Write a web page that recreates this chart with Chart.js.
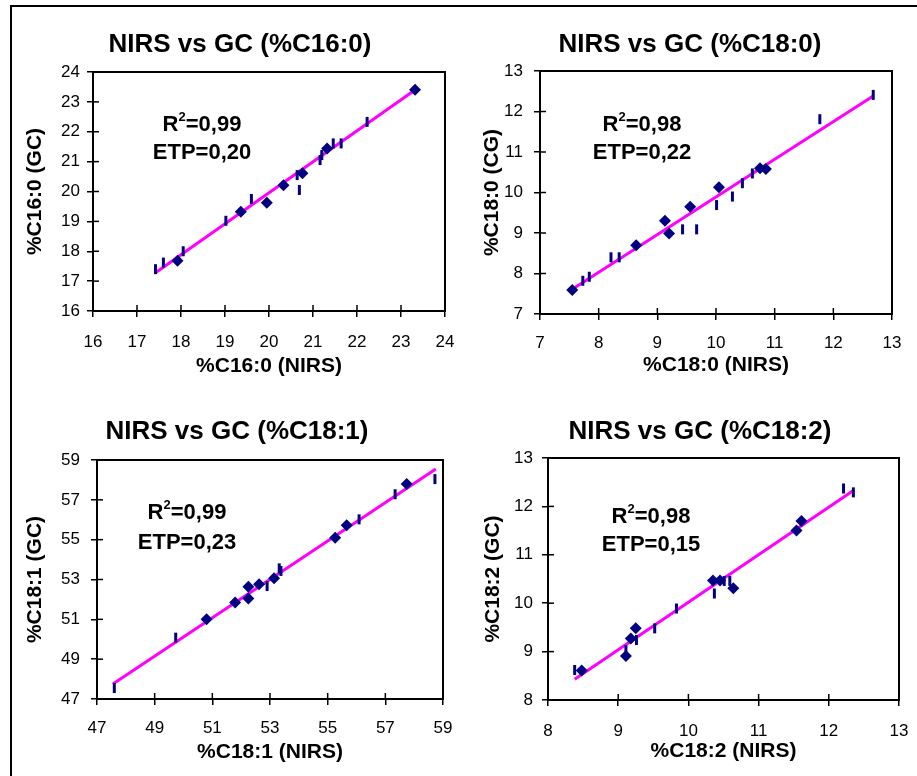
<!DOCTYPE html>
<html>
<head>
<meta charset="utf-8">
<script src="https://cdn.jsdelivr.net/npm/chart.js@4.4.0/dist/chart.umd.min.js"></script>
<style>
  html, body { margin: 0; padding: 0; background: #fff; overflow: hidden; }
  #wrap { position: relative; width: 917px; height: 776px; overflow: hidden; }
  #frame { position: absolute; left: 10px; top: 5px; width: 930px; height: 800px; border: 2px solid #000; box-sizing: border-box; }
  canvas { position: absolute; left: 0; top: 0; }
</style>
</head>
<body>
<div id="wrap">
  <div id="frame"></div>
  <canvas id="c16" width="917" height="776"></canvas>
  <canvas id="c180" width="917" height="776"></canvas>
  <canvas id="c181" width="917" height="776"></canvas>
  <canvas id="c182" width="917" height="776"></canvas>
</div>
<script>
// --- data (calibration = diamonds, validation = bars) ---
var c16CalX = [17.92, 19.36, 19.95, 20.33, 20.76, 21.32, 23.32];
var c16CalY = [17.68, 19.32, 19.62, 20.21, 20.61, 21.44, 23.41];
var c16ValX = [17.42, 17.60, 18.05, 19.02, 19.60, 20.64, 20.69, 21.16, 21.20, 21.46, 21.64, 22.23];
var c16ValY = [17.40, 17.62, 18.00, 19.02, 19.75, 20.55, 20.05, 21.05, 21.22, 21.61, 21.61, 22.33];
var c16LineX = [17.42, 23.30];
var c16LineY = [17.28, 23.38];

var c180CalX = [7.55, 8.64, 9.13, 9.20, 9.56, 10.05, 10.75, 10.85];
var c180CalY = [7.59, 8.70, 9.30, 8.99, 9.65, 10.13, 10.60, 10.58];
var c180ValX = [7.73, 7.84, 8.21, 8.35, 9.43, 9.67, 10.01, 10.28, 10.45, 10.62, 11.77, 12.68];
var c180ValY = [7.82, 7.92, 8.40, 8.40, 9.09, 9.09, 9.69, 9.90, 10.23, 10.47, 11.81, 12.41];
var c180LineX = [7.57, 12.68];
var c180LineY = [7.63, 12.38];

var c181CalX = [50.80, 51.79, 52.25, 52.25, 52.62, 53.14, 55.26, 55.66, 57.74];
var c181CalY = [51.00, 51.85, 52.05, 52.64, 52.76, 53.06, 55.10, 55.73, 57.79];
var c181ValX = [47.60, 49.73, 52.90, 53.32, 53.38, 56.09, 57.34, 58.72];
var c181ValY = [47.55, 50.08, 52.67, 53.56, 53.43, 56.02, 57.28, 58.04];
var c181LineX = [47.55, 58.75];
var c181LineY = [47.75, 58.55];

var c182CalX = [8.48, 9.11, 9.18, 9.25, 10.35, 10.45, 10.64, 11.54, 11.61];
var c182CalY = [8.61, 8.91, 9.27, 9.48, 10.47, 10.47, 10.31, 11.50, 11.70];
var c182ValX = [8.38, 9.11, 9.26, 9.52, 9.83, 10.37, 10.51, 10.59, 12.21, 12.35];
var c182ValY = [8.62, 9.03, 9.24, 9.48, 9.89, 10.20, 10.46, 10.46, 12.37, 12.29];
var c182LineX = [8.38, 12.34];
var c182LineY = [8.43, 12.32];

var FONT = "'Liberation Sans', Arial, sans-serif";
var NAVY = "#000080";
var MAGENTA = "#FF00FF";

function pts( xs, ys ) {
	var out = [];
	for ( var i = 0; i < xs.length; i++ ) {
		out.push( { x: xs[i], y: ys[i] } );
	}
	return out;
}

// draws the panel title, the R2 / ETP note, the plot frame and the inner half of the ticks
var panelDecor = {
	id: "panelDecor",
	afterDraw: function( chart, args, o ) {
		var ctx = chart.ctx;
		var a = chart.chartArea;
		ctx.save();

		// frame
		ctx.strokeStyle = "#000";
		ctx.lineWidth = 2;
		ctx.strokeRect( a.left, a.top, a.right - a.left, a.bottom - a.top );

		// inner ticks
		ctx.lineWidth = 1.5;
		var xs = chart.scales.x, ys = chart.scales.y;
		xs.ticks.forEach( function( t ) {
			var p = xs.getPixelForValue( t.value );
			ctx.beginPath(); ctx.moveTo( p, a.bottom ); ctx.lineTo( p, a.bottom - 6 ); ctx.stroke();
		} );
		ys.ticks.forEach( function( t ) {
			var p = ys.getPixelForValue( t.value );
			ctx.beginPath(); ctx.moveTo( a.left, p ); ctx.lineTo( a.left + 6, p ); ctx.stroke();
		} );

		ctx.fillStyle = "#000";
		ctx.textBaseline = "middle";

		// title
		ctx.textAlign = "center";
		ctx.font = "bold 26px " + FONT;
		ctx.fillText( o.title, o.titleX, o.titleY );

		// R2 line with superscript
		ctx.textAlign = "left";
		ctx.font = "bold 22px " + FONT;
		var w1 = ctx.measureText( "R" ).width;
		var w3 = ctx.measureText( o.r2 ).width;
		ctx.font = "bold 13px " + FONT;
		var w2 = ctx.measureText( "2" ).width;
		var x = o.noteX - ( w1 + w2 + w3 ) / 2;
		ctx.font = "bold 22px " + FONT;
		ctx.fillText( "R", x, o.noteY1 );
		ctx.font = "bold 13px " + FONT;
		ctx.fillText( "2", x + w1, o.noteY1 - 8 );
		ctx.font = "bold 22px " + FONT;
		ctx.fillText( o.r2, x + w1 + w2, o.noteY1 );

		ctx.textAlign = "center";
		ctx.fillText( o.etp, o.noteX, o.noteY2 );
		ctx.restore();
	}
};

function makePanel( id, p ) {
	var hX = p.xTitleY + 12.6 - p.plot.b;       // height of x axis block
	var padLeft = p.yTitleX - 12.6;
	var wY = p.plot.l - padLeft;

	return new Chart( document.getElementById( id ), {
		type: "scatter",
		data: {
			datasets: [ {
				data: pts( p.calX, p.calY ),
				pointStyle: "rectRot",
				pointRadius: 6,
				backgroundColor: NAVY,
				borderColor: NAVY,
				borderWidth: 0
			}, {
				data: pts( p.valX, p.valY ),
				pointStyle: "line",
				rotation: 90,
				pointRadius: 5,
				borderColor: NAVY,
				borderWidth: 3
			}, {
				data: pts( p.lineX, p.lineY ),
				showLine: true,
				pointRadius: 0,
				borderColor: MAGENTA,
				borderWidth: 3
			} ]
		},
		options: {
			responsive: false,
			animation: false,
			events: [],
			layout: {
				padding: { left: padLeft, top: p.plot.t, right: 917 - p.plot.r, bottom: 776 - p.plot.b - hX }
			},
			plugins: {
				legend: { display: false },
				tooltip: { enabled: false },
				panelDecor: p.note
			},
			scales: {
				x: {
					type: "linear",
					min: p.xMin, max: p.xMax,
					ticks: { stepSize: p.xStep, color: "#000", padding: p.xTickPad, font: { family: FONT, size: 17 } },
					grid: { drawOnChartArea: false, drawTicks: true, tickLength: 6, color: "#000", lineWidth: 1.5 },
					border: { display: true, color: "#000", width: 2 },
					title: { display: true, text: p.xTitle, color: "#000", padding: 0, font: { family: FONT, size: 21, weight: "bold" } },
					afterFit: function( s ) { s.height = hX; s.paddingLeft = 0; s.paddingRight = 0; }
				},
				y: {
					type: "linear",
					min: p.yMin, max: p.yMax,
					ticks: { stepSize: p.yStep, color: "#000", padding: p.yTickPad, font: { family: FONT, size: 17 } },
					grid: { drawOnChartArea: false, drawTicks: true, tickLength: 6, color: "#000", lineWidth: 1.5 },
					border: { display: true, color: "#000", width: 2 },
					title: { display: true, text: p.yTitle, color: "#000", padding: 0, font: { family: FONT, size: 21, weight: "bold" } },
					afterFit: function( s ) { s.width = wY; s.paddingTop = 0; s.paddingBottom = 0; }
				}
			}
		},
		plugins: [ panelDecor ]
	} );
}

makePanel( "c16", {
	calX: c16CalX, calY: c16CalY, valX: c16ValX, valY: c16ValY, lineX: c16LineX, lineY: c16LineY,
	xMin: 16, xMax: 24, xStep: 1, yMin: 16, yMax: 24, yStep: 1,
	xTitle: "%C16:0 (NIRS)", yTitle: "%C16:0 (GC)",
	plot: { l: 93, t: 72, r: 445, b: 311 }, xTitleY: 366.5, yTitleX: 35, xTickPad: 15, yTickPad: 7,
	note: { title: "NIRS vs GC (%C16:0)", titleX: 240, titleY: 45, r2: "=0,99", etp: "ETP=0,20", noteX: 202, noteY1: 125, noteY2: 153 }
} );

makePanel( "c180", {
	calX: c180CalX, calY: c180CalY, valX: c180ValX, valY: c180ValY, lineX: c180LineX, lineY: c180LineY,
	xMin: 7, xMax: 13, xStep: 1, yMin: 7, yMax: 13, yStep: 1,
	xTitle: "%C18:0 (NIRS)", yTitle: "%C18:0 (CG)",
	plot: { l: 540, t: 71, r: 892, b: 314 }, xTitleY: 365, yTitleX: 492, xTickPad: 13, yTickPad: 11,
	note: { title: "NIRS vs GC (%C18:0)", titleX: 690, titleY: 45, r2: "=0,98", etp: "ETP=0,22", noteX: 642, noteY1: 125, noteY2: 153 }
} );

makePanel( "c181", {
	calX: c181CalX, calY: c181CalY, valX: c181ValX, valY: c181ValY, lineX: c181LineX, lineY: c181LineY,
	xMin: 47, xMax: 59, xStep: 2, yMin: 47, yMax: 59, yStep: 2,
	xTitle: "%C18:1 (NIRS)", yTitle: "%C18:1 (GC)",
	plot: { l: 97, t: 460, r: 443, b: 699 }, xTitleY: 752, yTitleX: 35, xTickPad: 13, yTickPad: 11,
	note: { title: "NIRS vs GC (%C18:1)", titleX: 237, titleY: 432, r2: "=0,99", etp: "ETP=0,23", noteX: 187, noteY1: 513, noteY2: 543 }
} );

makePanel( "c182", {
	calX: c182CalX, calY: c182CalY, valX: c182ValX, valY: c182ValY, lineX: c182LineX, lineY: c182LineY,
	xMin: 8, xMax: 13, xStep: 1, yMin: 8, yMax: 13, yStep: 1,
	xTitle: "%C18:2 (NIRS)", yTitle: "%C18:2 (GC)",
	plot: { l: 548, t: 458, r: 899, b: 700 }, xTitleY: 751, yTitleX: 493, xTickPad: 15, yTickPad: 9,
	note: { title: "NIRS vs GC (%C18:2)", titleX: 700, titleY: 432, r2: "=0,98", etp: "ETP=0,15", noteX: 651, noteY1: 517, noteY2: 545 }
} );
</script>
</body>
</html>
